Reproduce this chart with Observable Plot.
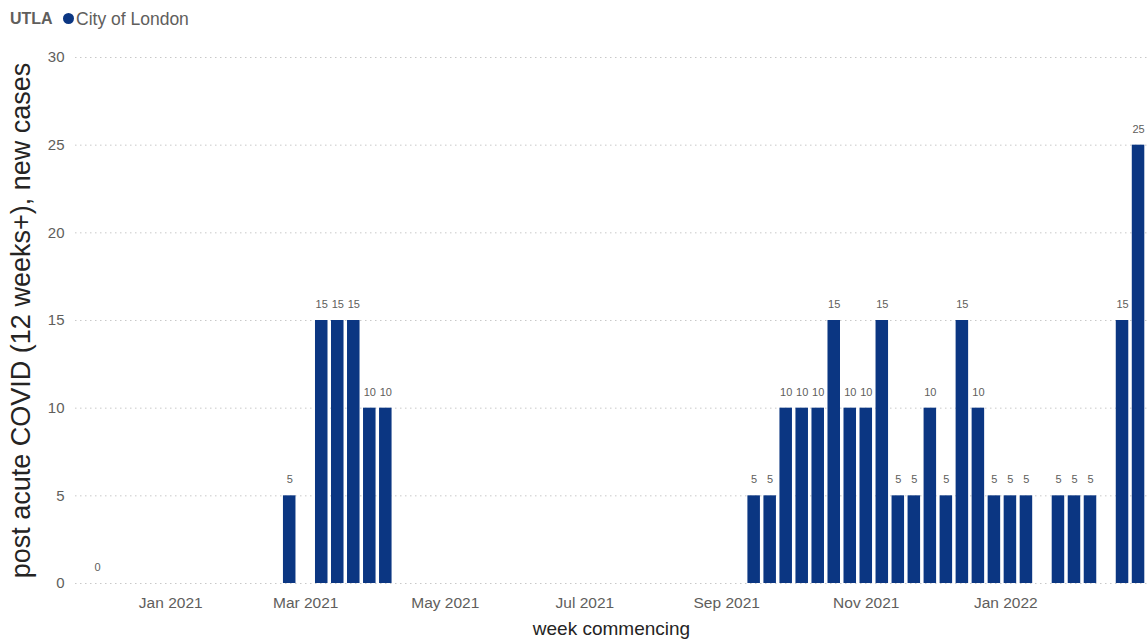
<!DOCTYPE html>
<html>
<head>
<meta charset="utf-8">
<script src="https://cdn.jsdelivr.net/npm/d3@7"></script>
<script src="https://cdn.jsdelivr.net/npm/@observablehq/plot@0.6"></script>
<style>
  html, body { margin: 0; padding: 0; background: #fff; }
  body { width: 1147px; height: 644px; overflow: hidden; font-family: "Liberation Sans", Arial, sans-serif; }
  #legend { height: 38px; position: relative; }
  #legend .t { position: absolute; top: 9px; left: 10px; font-size: 16px; line-height: 20px; font-weight: bold; color: #605e5c; white-space: nowrap; }
  #legend .dot { position: absolute; top: 13px; left: 63px; width: 11px; height: 11px; border-radius: 50%; background: #0b3682; }
  #legend .n { position: absolute; top: 8px; left: 76px; font-size: 17.5px; line-height: 22px; color: #605e5c; white-space: nowrap; }
  #chart svg { display: block; }
</style>
</head>
<body>
<div id="legend"><span class="t">UTLA</span><span class="dot"></span><span class="n">City of London</span></div>
<div id="chart"></div>
<script>
// Data (week commencing, new cases)
const weeks = [
  "2020-11-30",
  "2021-02-22", "2021-03-08", "2021-03-15", "2021-03-22", "2021-03-29", "2021-04-05",
  "2021-09-13", "2021-09-20", "2021-09-27", "2021-10-04", "2021-10-11", "2021-10-18",
  "2021-10-25", "2021-11-01", "2021-11-08", "2021-11-15", "2021-11-22", "2021-11-29",
  "2021-12-06", "2021-12-13", "2021-12-20", "2021-12-27", "2022-01-03", "2022-01-10",
  "2022-01-24", "2022-01-31", "2022-02-07",
  "2022-02-21", "2022-02-28"
];
const cases = [
  0,
  5, 15, 15, 15, 10, 10,
  5, 5, 10, 10, 10, 15,
  10, 10, 15, 5, 5, 10,
  5, 15, 10, 5, 5, 5,
  5, 5, 5,
  15, 25
];
const xTicks = ["2021-01-01", "2021-03-01", "2021-05-01", "2021-07-01", "2021-09-01", "2021-11-01", "2022-01-01"];
const yTicks = [0, 5, 10, 15, 20, 25, 30];
const seriesName = "City of London";
const xLabel = "week commencing";
const yLabel = "post acute COVID (12 weeks+), new cases";

const DAY = 864e5;
const data = weeks.map((w, i) => ({date: new Date(w), value: cases[i]}));

const chart = Plot.plot({
  width: 1147,
  height: 606,
  marginLeft: 75,
  marginRight: 0,
  marginTop: 19,
  marginBottom: 61,
  style: {fontFamily: '"Liberation Sans", Arial, sans-serif', background: "#fff", overflow: "visible"},
  x: {type: "utc", domain: [new Date("2020-11-20T09:00Z"), new Date("2022-03-03T22:00Z")]},
  y: {domain: [0, 30]},
  marks: [
    Plot.ruleY(yTicks, {stroke: "#c8c8c8", strokeDasharray: "1.5,3.5", strokeWidth: 1}),
    Plot.rectY(data, {
      x1: d => new Date(+d.date - 3.5 * DAY),
      x2: d => new Date(+d.date + 3.5 * DAY),
      y: "value",
      insetLeft: 1.75, insetRight: 1.75,
      fill: "#0b3682"
    }),
    Plot.text(data, {x: "date", y: "value", text: d => String(d.value), dy: -16, fontSize: 11, fill: "#605e5c"}),
    Plot.axisX({ticks: xTicks.map(d => new Date(d)), tickFormat: d3.utcFormat("%b %Y"), tickSize: 0, tickPadding: 13, fontSize: 15.5, color: "#605e5c", label: null}),
    Plot.axisY({ticks: yTicks, tickSize: 0, tickPadding: 11, fontSize: 15, color: "#605e5c", label: null}),
    Plot.text([xLabel], {frameAnchor: "bottom", lineAnchor: "middle", dy: 45, fontSize: 19, fill: "#252423"}),
    Plot.text([yLabel], {frameAnchor: "left", textAnchor: "middle", lineAnchor: "middle", rotate: -90, dx: -54, fontSize: 27, fill: "#252423"})
  ]
});
document.getElementById("chart").appendChild(chart);
</script>
</body>
</html>
